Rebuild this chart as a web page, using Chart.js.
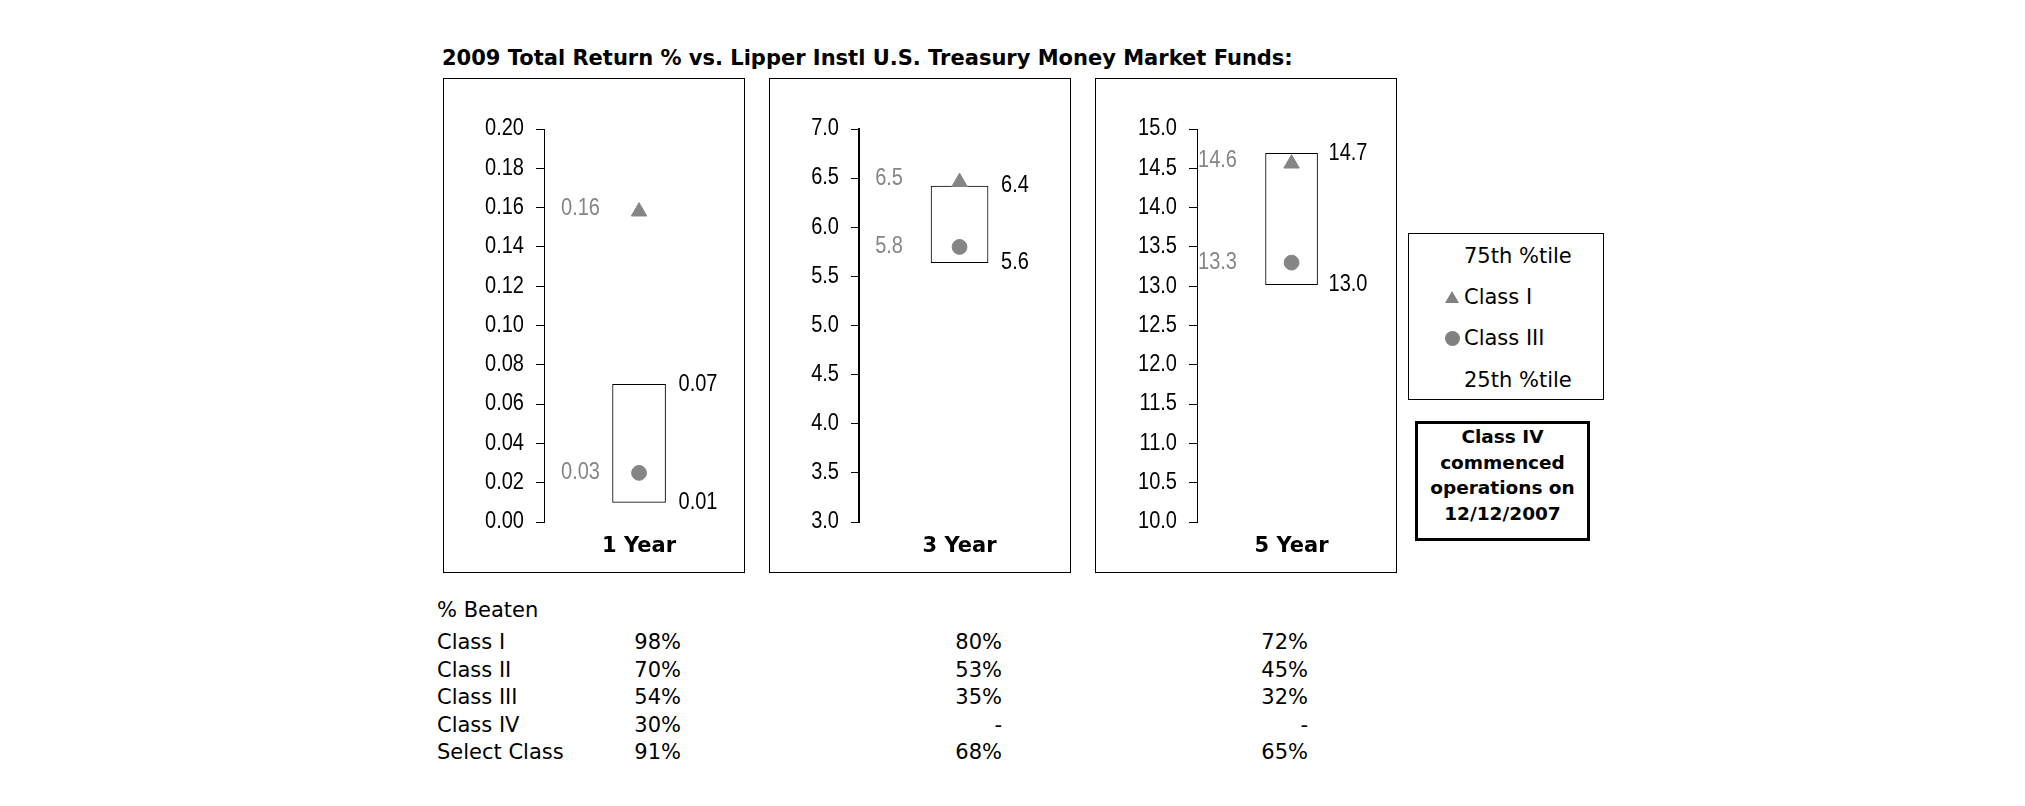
<!DOCTYPE html>
<html><head><meta charset="utf-8">
<script src="https://cdn.jsdelivr.net/npm/chart.js@4/dist/chart.umd.min.js"></script>
<style>
html,body{margin:0;padding:0;background:#fff;width:2025px;height:806px;overflow:hidden;}
body{position:relative;font-family:'DejaVu Sans',Verdana,sans-serif;color:#000;}
.abs{position:absolute;white-space:nowrap;}
.panel{position:absolute;top:78px;width:300px;height:493px;border:1px solid #000;}
.panel canvas{display:block;}
#title{left:442px;top:46px;font-weight:bold;font-size:21px;line-height:24px;}
.t{font-size:21px;line-height:24px;}
#legend{left:1408px;top:233px;width:194px;height:165px;border:1px solid #000;}
#note{left:1415px;top:421px;width:169px;height:114px;border:3px solid #000;text-align:center;font-weight:bold;font-size:18.5px;line-height:25.7px;}
.tri{position:absolute;width:0;height:0;border-left:7px solid transparent;border-right:7px solid transparent;border-bottom:12px solid #808080;}
.dot{position:absolute;width:15px;height:15px;border-radius:50%;background:#808080;}
</style>
</head><body>
<div id="title" class="abs">2009 Total Return % vs. Lipper Instl U.S. Treasury Money Market Funds:</div>
<div class="panel" style="left:443px"><canvas id="c0" width="300" height="493"></canvas></div>
<div class="panel" style="left:769px"><canvas id="c1" width="300" height="493"></canvas></div>
<div class="panel" style="left:1095px"><canvas id="c2" width="300" height="493"></canvas></div>
<div id="legend" class="abs"></div>
<div id="note" class="abs">Class IV<br>commenced<br>operations on<br>12/12/2007</div>
<div id="table"></div>
<script>
// ---- data ----
const periods = ['1 Year', '3 Year', '5 Year'];
const classI = [0.158, 6.46, 14.56];
const classIII = [0.025, 5.80, 13.30];
const pct75 = [0.07, 6.42, 14.69];
const pct25 = [0.01, 5.64, 13.02];
const yMin = [0, 3, 10];
const yMax = [0.2, 7, 15];
const yStep = [0.02, 0.5, 0.5];
const decimals = [2, 1, 1];

const legendItems = ['75th %tile', 'Class I', 'Class III', '25th %tile'];
const beatenHeader = '% Beaten';
const beatenClasses = ['Class I', 'Class II', 'Class III', 'Class IV', 'Select Class'];
const beaten1Y = [98, 70, 54, 30, 91];
const beaten3Y = [80, 53, 35, null, 68];
const beaten5Y = [72, 45, 32, null, 65];

// ---- styles ----
const GRAY = '#858585';
const NUM_FAMILY = "'Liberation Sans Narrow','Liberation Sans',Arial,sans-serif";
const NUM_SIZE = 23;
const SX = 0.87; // horizontal condensing of numeric labels
const axisX = [100, 89, 101];
const padRight = [6, 7, 7];
const barW = [53, 57, 52];
const grayOffset = [56, 44, 40];
const blackGap = [13, 13, 11];

function fmt(v, i) { return v.toFixed(decimals[i]); }

function condensed(ctx, text, x, y, align) {
  ctx.save();
  ctx.translate(x, y);
  ctx.scale(SX, 1);
  ctx.textAlign = align;
  ctx.fillText(text, 0, 0);
  ctx.restore();
}

const valueLabels = {
  id: 'valueLabels',
  afterDatasetsDraw(chart, args, opts) {
    const i = opts.index;
    const {ctx, chartArea} = chart;
    const y = chart.scales.y;
    const bar = chart.getDatasetMeta(2).data[0];
    const right = bar.x + bar.width / 2;
    ctx.save();
    ctx.font = NUM_SIZE + 'px ' + NUM_FAMILY;
    ctx.textBaseline = 'middle';
    // y-axis tick labels from the library's ticks
    ctx.fillStyle = '#000';
    y.ticks.forEach((t, k) => {
      condensed(ctx, Number(t.value).toFixed(decimals[i]), chartArea.left - 20, y.getPixelForTick(k), 'right');
    });
    ctx.fillStyle = GRAY;
    const gx = chartArea.left + grayOffset[i];
    condensed(ctx, fmt(classI[i], i), gx, y.getPixelForValue(classI[i]) - 3, 'right');
    condensed(ctx, fmt(classIII[i], i), gx, y.getPixelForValue(classIII[i]), 'right');
    ctx.fillStyle = '#000';
    condensed(ctx, fmt(pct75[i], i), right + blackGap[i], y.getPixelForValue(pct75[i]), 'left');
    condensed(ctx, fmt(pct25[i], i), right + blackGap[i], y.getPixelForValue(pct25[i]), 'left');
    ctx.restore();
  }
};

periods.forEach((p, i) => {
  new Chart(document.getElementById('c' + i), {
    type: 'bar',
    data: {
      labels: [p],
      datasets: [
        {type: 'line', label: 'Class I', data: [classI[i]], showLine: false,
         pointStyle: 'triangle', pointRadius: 8.9, pointBackgroundColor: GRAY,
         pointBorderColor: GRAY, pointBorderWidth: 1, order: 0},
        {type: 'line', label: 'Class III', data: [classIII[i]], showLine: false,
         pointStyle: 'circle', pointRadius: 7.4, pointBackgroundColor: GRAY,
         pointBorderColor: GRAY, pointBorderWidth: 1, order: 1},
        {type: 'bar', label: '25th-75th %tile', data: [[pct25[i], pct75[i]]],
         backgroundColor: '#fff', borderColor: '#000', borderWidth: 1,
         borderSkipped: false, barThickness: barW[i], order: 2}
      ]
    },
    options: {
      responsive: false, animation: false, devicePixelRatio: 1,
      layout: {padding: {top: 50, right: padRight[i], left: 0, bottom: 0}},
      plugins: {legend: {display: false}, tooltip: {enabled: false},
                valueLabels: {index: i}},
      scales: {
        x: {
          type: 'category', offset: true,
          grid: {display: false, drawTicks: false},
          border: {display: false},
          ticks: {color: '#000', padding: 12, maxRotation: 0, autoSkip: false,
                  font: {family: "'DejaVu Sans',Verdana,sans-serif", size: 21, weight: 'bold'}},
          afterFit(s) { s.height = 50; }
        },
        y: {
          type: 'linear', min: yMin[i], max: yMax[i],
          grid: {display: true, drawOnChartArea: false, drawTicks: true, tickLength: 8, color: '#000'},
          border: {display: true, color: '#000', width: i === 1 ? 2 : 1},
          ticks: {display: false, stepSize: yStep[i], color: '#000',
                  font: {family: NUM_FAMILY, size: NUM_SIZE}},
          afterFit(s) { s.width = axisX[i]; }
        }
      }
    },
    plugins: [valueLabels]
  });
});

// legend box
(function () {
  const lg = document.getElementById('legend');
  const ys = [256, 297, 338, 380];
  legendItems.forEach((t, k) => {
    const d = document.createElement('div');
    d.className = 'abs t';
    d.textContent = t;
    d.style.left = (1464 - 1409) + 'px';
    d.style.top = (ys[k] - 12 - 234) + 'px';
    lg.appendChild(d);
  });
  const tri = document.createElement('div');
  tri.className = 'tri';
  tri.style.left = (1445 - 1409) + 'px';
  tri.style.top = (291 - 234) + 'px';
  lg.appendChild(tri);
  const dot = document.createElement('div');
  dot.className = 'dot';
  dot.style.left = (1444.5 - 1409) + 'px';
  dot.style.top = (330.5 - 234) + 'px';
  lg.appendChild(dot);
})();

// % beaten table
(function () {
  const tb = document.getElementById('table');
  function add(text, x, cy, alignRight) {
    const d = document.createElement('div');
    d.className = 'abs t';
    d.textContent = text;
    d.style.top = (cy - 12) + 'px';
    if (alignRight) { d.style.left = (x - 200) + 'px'; d.style.width = '200px'; d.style.textAlign = 'right'; }
    else d.style.left = x + 'px';
    tb.appendChild(d);
  }
  add(beatenHeader, 437, 610, false);
  const rowY = [642, 670, 697, 725, 752];
  const cols = [beaten1Y, beaten3Y, beaten5Y];
  const colX = [681, 1002, 1308];
  beatenClasses.forEach((c, r) => {
    add(c, 437, rowY[r], false);
    cols.forEach((col, k) => add(col[r] === null ? '-' : col[r] + '%', colX[k], rowY[r], true));
  });
})();
</script>
</body></html>
